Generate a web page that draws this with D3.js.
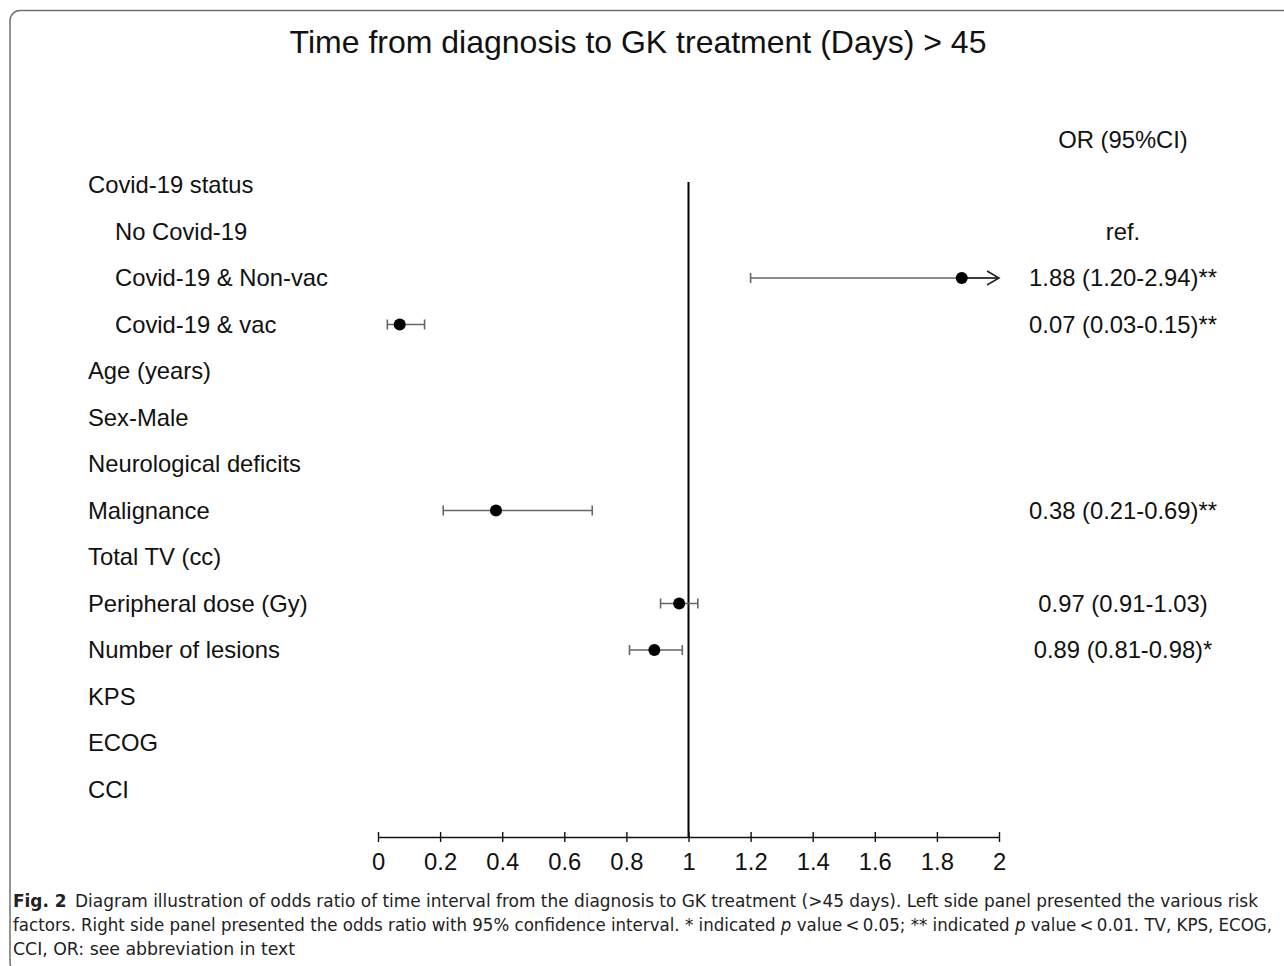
<!DOCTYPE html>
<html>
<head>
<meta charset="utf-8">
<script src="https://cdn.jsdelivr.net/npm/d3@7"></script>
<style>
  html, body { margin: 0; padding: 0; background: #fff; }
  svg { display: block; }
  .lbl { font-family: "Liberation Sans", Arial, sans-serif; font-size: 23.8px; fill: #111; }
  .cap { font-family: "Liberation Sans Narrow", "DejaVu Sans Condensed", "Liberation Sans", sans-serif; font-size: 17.5px; fill: #222; }
</style>
</head>
<body>
<svg id="chart" width="1284" height="966"></svg>
<script>
// Risk factors (rows, top to bottom)
const labels = [
  "Covid-19 status", "No Covid-19", "Covid-19 & Non-vac", "Covid-19 & vac",
  "Age (years)", "Sex-Male", "Neurological deficits", "Malignance",
  "Total TV (cc)", "Peripheral dose (Gy)", "Number of lesions", "KPS", "ECOG", "CCI"
];
const indented = [false, true, true, true, false, false, false, false, false, false, false, false, false, false];
const isReference = [false, true, false, false, false, false, false, false, false, false, false, false, false, false];

// Odds ratios with 95% confidence limits (null = not shown)
const oddsRatio = [null, null, 1.88, 0.07, null, null, null, 0.38, null, 0.97, 0.89, null, null, null];
const ciLower   = [null, null, 1.20, 0.03, null, null, null, 0.21, null, 0.91, 0.81, null, null, null];
const ciUpper   = [null, null, 2.94, 0.15, null, null, null, 0.69, null, 1.03, 0.98, null, null, null];
const significance = ["", "", "**", "**", "", "", "", "**", "", "", "*", "", "", ""];

// Axis ticks
const xTicks = [0, 0.2, 0.4, 0.6, 0.8, 1, 1.2, 1.4, 1.6, 1.8, 2];

const svg = d3.select("#chart");

// Outer rounded frame
svg.append("rect")
  .attr("x", 10).attr("y", 10.5)
  .attr("width", 1300).attr("height", 962)
  .attr("rx", 10).attr("ry", 10)
  .attr("fill", "none").attr("stroke", "#707070").attr("stroke-width", 1.5);

// Title
svg.append("text")
  .attr("x", 638).attr("y", 53)
  .attr("text-anchor", "middle")
  .style("font-family", "'Liberation Sans', Arial, sans-serif")
  .style("font-size", "32px").style("fill", "#111")
  .text("Time from diagnosis to GK treatment (Days) > 45");

const x = d3.scaleLinear().domain([0, 2]).range([378, 999]);
const y = d3.scalePoint().domain(d3.range(labels.length)).range([185, 789.5]);
const axisY = 837;
const xMax = x.domain()[1];

// Row labels
svg.append("g").selectAll("text")
  .data(labels)
  .join("text")
  .attr("class", "lbl")
  .attr("x", (d, i) => indented[i] ? 115 : 88)
  .attr("y", (d, i) => y(i))
  .attr("dy", "0.35em")
  .text(d => d);

// Right column header and values
svg.append("text").attr("class", "lbl")
  .attr("x", 1123).attr("y", 140).attr("dy", "0.35em")
  .attr("text-anchor", "middle")
  .text("OR (95%CI)");

const fmt = d3.format(".2f");
svg.append("g").selectAll("text")
  .data(labels.map((d, i) => i))
  .join("text")
  .attr("class", "lbl")
  .attr("x", 1123)
  .attr("y", i => y(i))
  .attr("dy", "0.35em")
  .attr("text-anchor", "middle")
  .text(i => isReference[i] ? "ref."
    : oddsRatio[i] == null ? ""
    : `${fmt(oddsRatio[i])} (${fmt(ciLower[i])}-${fmt(ciUpper[i])})${significance[i]}`);

// Reference line at OR = 1
svg.append("line")
  .attr("x1", x(1)).attr("x2", x(1))
  .attr("y1", 182).attr("y2", axisY)
  .attr("stroke", "#000").attr("stroke-width", 2);

// X axis
const axis = svg.append("g")
  .attr("transform", `translate(0,${axisY})`)
  .call(d3.axisBottom(x).tickValues(xTicks).tickFormat(d3.format("")).tickSize(0).tickPadding(16));
axis.select(".domain").attr("stroke", "#111").attr("stroke-width", 1.6);
axis.selectAll(".tick line").attr("y1", -5).attr("y2", 5).attr("stroke", "#111").attr("stroke-width", 1.4);
axis.selectAll(".tick text")
  .style("font-family", "'Liberation Sans', Arial, sans-serif")
  .style("font-size", "23.8px").style("fill", "#111");

// Confidence intervals and point estimates
const rows = labels.map((d, i) => i).filter(i => oddsRatio[i] != null);
const ci = svg.append("g");
const capH = 5;
rows.forEach(i => {
  const yy = y(i);
  const clipped = ciUpper[i] > xMax;
  const hiX = x(Math.min(ciUpper[i], xMax));
  ci.append("line")
    .attr("x1", x(ciLower[i])).attr("x2", hiX)
    .attr("y1", yy).attr("y2", yy)
    .attr("stroke", "#666").attr("stroke-width", 1.6);
  ci.append("line")
    .attr("x1", x(ciLower[i])).attr("x2", x(ciLower[i]))
    .attr("y1", yy - capH).attr("y2", yy + capH)
    .attr("stroke", "#666").attr("stroke-width", 1.6);
  if (clipped) {
    ci.append("line")
      .attr("x1", x(oddsRatio[i])).attr("x2", hiX)
      .attr("y1", yy).attr("y2", yy)
      .attr("stroke", "#222").attr("stroke-width", 1.6);
    ci.append("path")
      .attr("d", `M${hiX - 12},${yy - 7}L${hiX},${yy}L${hiX - 12},${yy + 7}`)
      .attr("fill", "none").attr("stroke", "#222").attr("stroke-width", 1.6);
  } else {
    ci.append("line")
      .attr("x1", hiX).attr("x2", hiX)
      .attr("y1", yy - capH).attr("y2", yy + capH)
      .attr("stroke", "#666").attr("stroke-width", 1.6);
  }
  ci.append("circle")
    .attr("cx", x(oddsRatio[i])).attr("cy", yy)
    .attr("r", 6).attr("fill", "#000");
});

// Figure caption
const cap = svg.append("g");
const line1 = cap.append("text").attr("class", "cap").attr("x", 13).attr("y", 907)
  .attr("textLength", 1245).attr("lengthAdjust", "spacingAndGlyphs");
line1.append("tspan").style("font-weight", "bold").text("Fig. 2");
line1.append("tspan").text("\u2002Diagram illustration of odds ratio of time interval from the diagnosis to GK treatment (>45 days). Left side panel presented the various risk");

const line2 = cap.append("text").attr("class", "cap").attr("x", 13).attr("y", 931)
  .attr("textLength", 1259).attr("lengthAdjust", "spacingAndGlyphs");
line2.append("tspan").text("factors. Right side panel presented the odds ratio with 95% confidence interval. * indicated ");
line2.append("tspan").style("font-style", "italic").text("p");
line2.append("tspan").text(" value\u2009<\u20090.05; ** indicated ");
line2.append("tspan").style("font-style", "italic").text("p");
line2.append("tspan").text(" value\u2009<\u20090.01. TV, KPS, ECOG,");

cap.append("text").attr("class", "cap").attr("x", 13).attr("y", 955)
  .attr("textLength", 282).attr("lengthAdjust", "spacingAndGlyphs")
  .text("CCI, OR: see abbreviation in text");
</script>
</body>
</html>
